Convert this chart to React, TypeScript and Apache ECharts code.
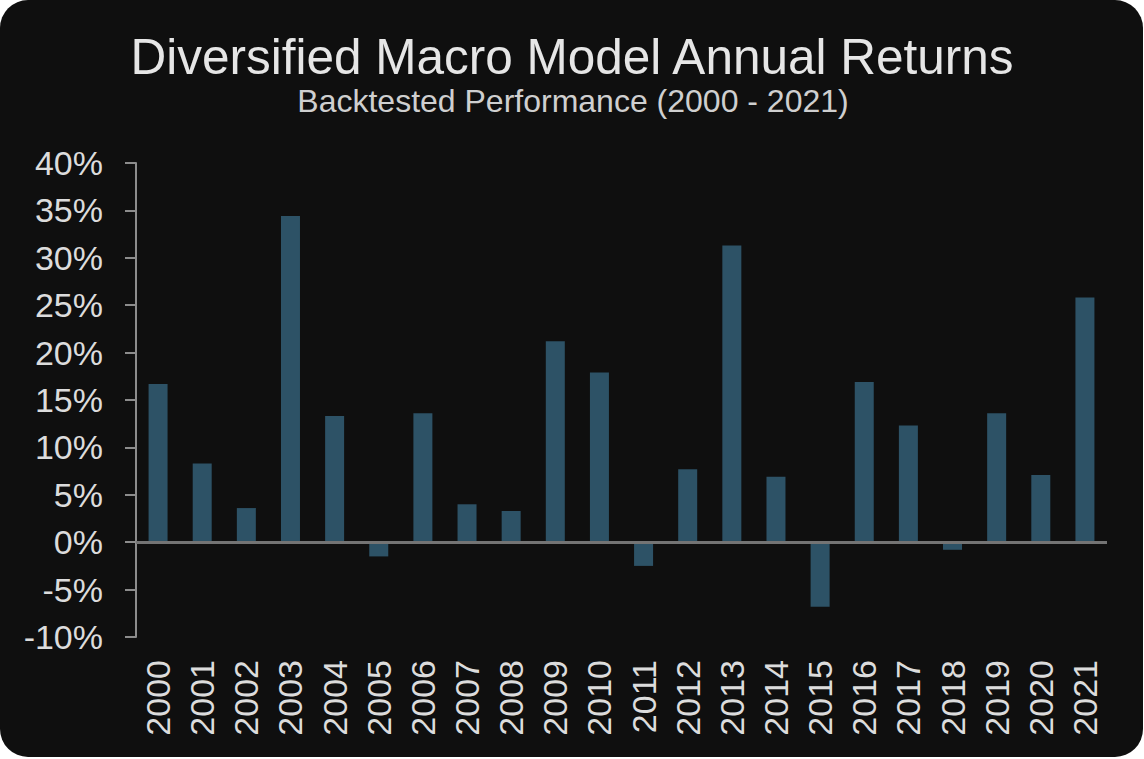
import React, { useEffect, useRef } from "react";
import * as echarts from "echarts";

const years = [
  "2000", "2001", "2002", "2003", "2004", "2005", "2006", "2007", "2008", "2009", "2010",
  "2011", "2012", "2013", "2014", "2015", "2016", "2017", "2018", "2019", "2020", "2021",
];
const returnsPct = [
  16.7, 8.3, 3.6, 34.4, 13.3, -1.5, 13.6, 4.0, 3.3, 21.2, 17.9,
  -2.5, 7.7, 31.3, 6.9, -6.8, 16.9, 12.3, -0.8, 13.6, 7.1, 25.8,
];
const titleText = "Diversified Macro Model Annual Returns";
const subtitleText = "Backtested Performance (2000 - 2021)";
const yMin = -10;
const yMax = 40;
const yStep = 5;

const FONT = "'Liberation Sans', Arial, sans-serif";

export default function App() {
  const ref = useRef<HTMLDivElement>(null);

  useEffect(() => {
    if (!ref.current) return;
    const chart = echarts.init(ref.current, undefined, { renderer: "svg" });
    chart.setOption({
      animation: false,
      backgroundColor: "transparent",
      textStyle: { fontFamily: FONT },
      graphic: [
        {
          type: "text",
          x: 572,
          y: 56,
          style: {
            text: titleText,
            fill: "#e6e6e6",
            font: `49.5px ${FONT}`,
            textAlign: "center",
            textVerticalAlign: "middle",
          },
        },
        {
          type: "text",
          x: 573,
          y: 101,
          style: {
            text: subtitleText,
            fill: "#cfcfcf",
            font: `32px ${FONT}`,
            textAlign: "center",
            textVerticalAlign: "middle",
          },
        },
      ],
      grid: { left: 136, right: 36, top: 163, bottom: 120, containLabel: false },
      xAxis: {
        type: "category",
        data: years,
        axisLine: { show: false, onZero: false },
        axisTick: { show: false },
        axisLabel: {
          rotate: 90,
          interval: 0,
          margin: 23,
          color: "#dcdcdc",
          fontSize: 34,
          fontFamily: FONT,
        },
      },
      yAxis: {
        type: "value",
        min: yMin,
        max: yMax,
        interval: yStep,
        splitLine: { show: false },
        axisLine: { show: true, lineStyle: { color: "#8c8c8c", width: 2 } },
        axisTick: { show: true, length: 11, lineStyle: { color: "#8c8c8c", width: 2 } },
        axisLabel: {
          margin: 33,
          color: "#dcdcdc",
          fontSize: 34,
          fontFamily: FONT,
          formatter: (v: number) => `${v}%`,
        },
      },
      series: [
        {
          type: "bar",
          data: returnsPct,
          barWidth: 19,
          itemStyle: { color: "#2d5266" },
          markLine: {
            silent: true,
            symbol: "none",
            label: { show: false },
            lineStyle: { color: "#747474", width: 3, type: "solid" },
            data: [{ yAxis: 0 }],
          },
        },
      ],
    });
    return () => chart.dispose();
  }, []);

  return (
    <div
      style={{
        position: "fixed",
        left: 0,
        top: 0,
        width: 1144,
        height: 759,
        background: "#ffffff",
      }}
    >
      <div
        style={{
          position: "absolute",
          left: 0,
          top: 0,
          width: 1143,
          height: 757,
          background: "#0f0f0f",
          borderRadius: 28,
          overflow: "hidden",
        }}
      >
        <div ref={ref} style={{ width: 1143, height: 757 }} />
      </div>
    </div>
  );
}
